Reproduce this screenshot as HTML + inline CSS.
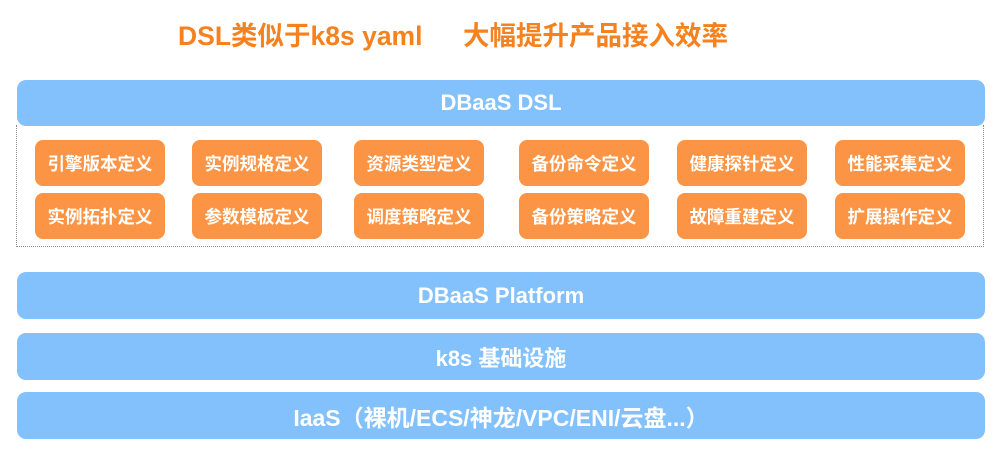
<!DOCTYPE html>
<html><head><meta charset="utf-8"><style>
body{margin:0;width:1000px;height:452px;background:#fff;position:relative;overflow:hidden;font-family:"Liberation Sans","Noto Sans CJK SC",sans-serif;}
.t{position:absolute;top:14px;font-size:26.5px;font-weight:bold;color:#f5821f;white-space:nowrap}
.bar{position:absolute;left:17px;width:968px;background:#83c1fd;border-radius:9px;color:#fff;font-weight:bold;font-size:22px;display:flex;align-items:center;justify-content:center}
.dot{position:absolute;left:16px;top:125px;width:968px;height:122px;border:1px dotted #888;border-top:none;box-sizing:border-box}
.o{position:absolute;width:130px;height:46px;background:#fb9444;border-radius:8px;color:#fff;font-weight:bold;font-size:17.5px;display:flex;align-items:center;justify-content:center}
</style></head><body>
<div class="t" style="left:178px">DSL类似于k8s yaml</div>
<div class="t" style="left:463px">大幅提升产品接入效率</div>
<div class="dot"></div>
<div class="bar" style="top:80px;height:46px">DBaaS DSL</div>
<div class="o" style="left:35px;top:140px">引擎版本定义</div>
<div class="o" style="left:192px;top:140px">实例规格定义</div>
<div class="o" style="left:354px;top:140px">资源类型定义</div>
<div class="o" style="left:519px;top:140px">备份命令定义</div>
<div class="o" style="left:677px;top:140px">健康探针定义</div>
<div class="o" style="left:835px;top:140px">性能采集定义</div>
<div class="o" style="left:35px;top:193px">实例拓扑定义</div>
<div class="o" style="left:192px;top:193px">参数模板定义</div>
<div class="o" style="left:354px;top:193px">调度策略定义</div>
<div class="o" style="left:519px;top:193px">备份策略定义</div>
<div class="o" style="left:677px;top:193px">故障重建定义</div>
<div class="o" style="left:835px;top:193px">扩展操作定义</div>
<div class="bar" style="top:272px;height:47px">DBaaS Platform</div>
<div class="bar" style="top:333px;height:47px">k8s 基础设施</div>
<div class="bar" style="top:392px;height:47px;font-size:23px">IaaS（裸机/ECS/神龙/VPC/ENI/云盘...）</div>
</body></html>
